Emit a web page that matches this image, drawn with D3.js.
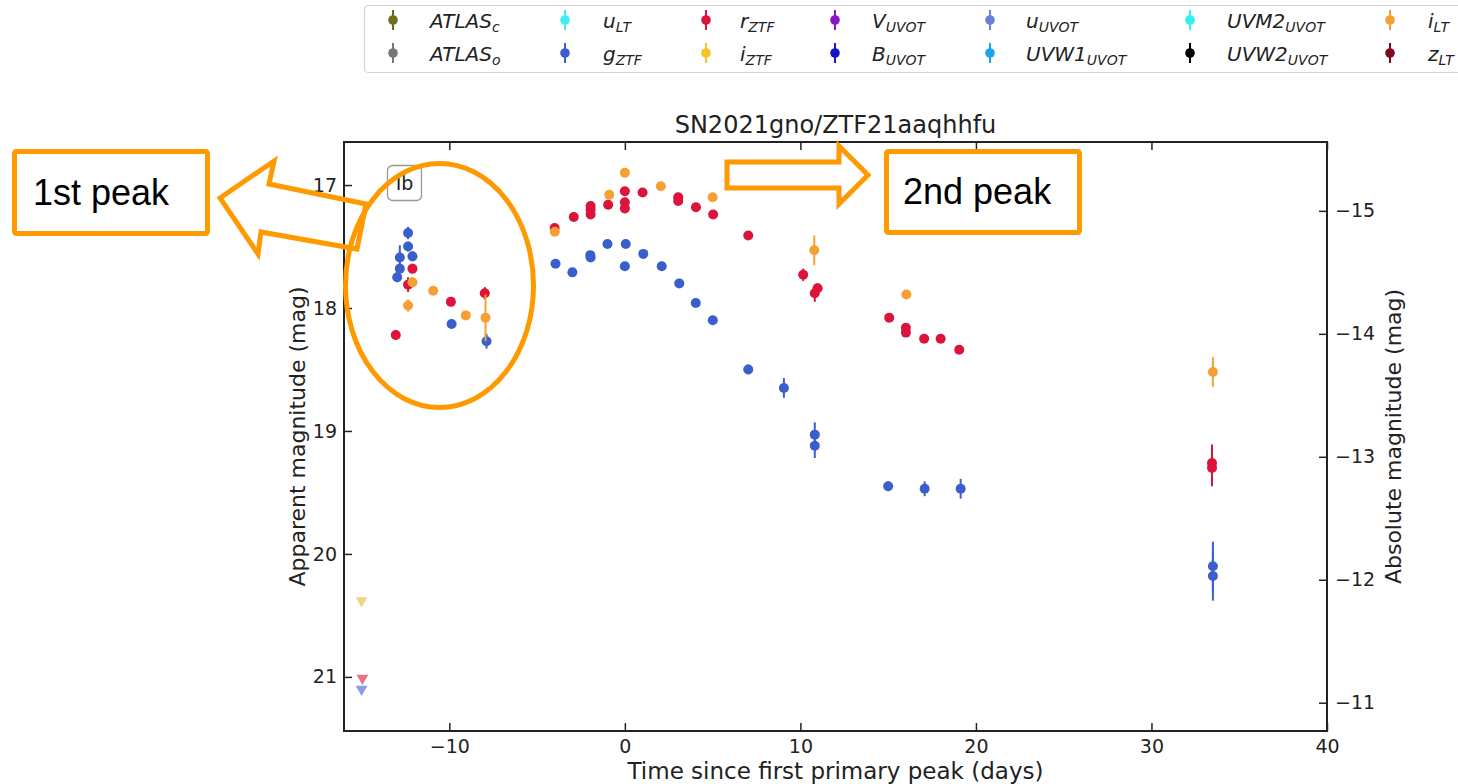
<!DOCTYPE html>
<html>
<head>
<meta charset="utf-8">
<script src="https://cdn.jsdelivr.net/npm/d3@7"></script>
<style>
  body { margin: 0; background: #fff; }
  svg { display: block; font-family: 'DejaVu Sans', sans-serif; }
</style>
</head>
<body>
<svg id="chart" width="1458" height="784"></svg>
<script>
// photometry: [days since first primary peak, apparent mag, error]
var gZTF = [
  [-12.97, 17.75, 0.04], [-12.82, 17.68, 0.05], [-12.82, 17.59, 0.10],
  [-12.35, 17.39, 0.05], [-12.35, 17.50, 0.04], [-12.10, 17.58, 0.04],
  [-9.87, 18.13, 0.03], [-7.88, 18.27, 0.06],
  [-3.95, 17.64, 0.03], [-2.99, 17.71, 0.03], [-1.97, 17.57, 0.03],
  [-1.95, 17.59, 0.03], [-0.99, 17.48, 0.03], [0.05, 17.48, 0.03],
  [0.0, 17.66, 0.03], [1.05, 17.56, 0.03], [2.10, 17.66, 0.03],
  [3.10, 17.80, 0.03], [4.04, 17.96, 0.03], [5.01, 18.10, 0.03],
  [7.03, 18.50, 0.04], [9.06, 18.65, 0.08], [10.82, 19.03, 0.10],
  [10.82, 19.12, 0.10], [15.0, 19.45, 0.04], [17.08, 19.47, 0.06],
  [19.13, 19.47, 0.08], [33.5, 20.10, 0.20], [33.5, 20.18, 0.20]
];
var rZTF = [
  [-13.05, 18.22, 0.04], [-12.35, 17.81, 0.06], [-12.10, 17.68, 0.04],
  [-9.91, 17.95, 0.03], [-7.98, 17.88, 0.05],
  [-4.0, 17.35, 0.03], [-2.91, 17.26, 0.03], [-1.95, 17.17, 0.03],
  [-1.95, 17.20, 0.03], [-1.95, 17.24, 0.03], [-0.95, 17.16, 0.03],
  [0.0, 17.05, 0.03], [0.0, 17.14, 0.03], [0.0, 17.19, 0.03],
  [1.01, 17.06, 0.03], [3.04, 17.10, 0.03], [3.04, 17.13, 0.03],
  [4.05, 17.18, 0.03], [5.03, 17.24, 0.03], [7.03, 17.41, 0.03],
  [10.16, 17.73, 0.05], [10.98, 17.84, 0.04], [10.82, 17.88, 0.07],
  [15.06, 18.08, 0.03], [16.01, 18.16, 0.03], [16.01, 18.20, 0.03],
  [17.05, 18.25, 0.03], [17.99, 18.25, 0.03], [19.05, 18.34, 0.03],
  [33.45, 19.26, 0.15], [33.45, 19.30, 0.15]
];
var iLT = [
  [-12.10, 17.79, 0.04], [-12.35, 17.98, 0.05], [-10.92, 17.86, 0.03],
  [-9.06, 18.06, 0.03], [-7.94, 18.08, 0.19],
  [-3.99, 17.38, 0.03], [-0.89, 17.08, 0.03], [0.0, 16.90, 0.03],
  [2.05, 17.01, 0.03], [5.0, 17.10, 0.03], [10.79, 17.53, 0.12],
  [16.04, 17.89, 0.03], [33.5, 18.52, 0.12]
];
// upper limits: [days, mag]
var gZTFLimits = [[-15.0, 21.10]];
var rZTFLimits = [[-14.95, 21.01]];
var iZTFLimits = [[-15.0, 20.38]];

var xTicks = [-10, 0, 10, 20, 30, 40];
var yTicks = [17, 18, 19, 20, 21];
var absTicks = [-15, -14, -13, -12, -11];
var distMod = 32.21;

var legendNames = ['ATLAS', 'ATLAS', 'u', 'g', 'r', 'i', 'V', 'B', 'u', 'UVW1', 'UVM2', 'UVW2', 'i', 'z'];
var legendSubs = ['c', 'o', 'LT', 'ZTF', 'ZTF', 'ZTF', 'UVOT', 'UVOT', 'UVOT', 'UVOT', 'UVOT', 'UVOT', 'LT', 'LT'];
var legendColors = ['#6e6e1e', '#777777', '#3ff0f0', '#3a5fcd', '#dc143c', '#f5c428', '#8a14c8',
  '#1414cc', '#6a80dc', '#1aa6ee', '#30f0f0', '#000000', '#f5a033', '#800a1c'];

var bandColor = { g: '#3a5fcd', r: '#dc143c', i: '#f5a033', iz: '#e8b830' };

var svg = d3.select('#chart');
var plotLeft = 344, plotRight = 1327, plotTop = 142, plotBottom = 731;

var x = d3.scaleLinear().domain([-16, 40]).range([plotLeft, plotRight]);
var y = d3.scaleLinear().domain([16.65, 21.44]).range([plotTop, plotBottom]);
var yAbs = d3.scaleLinear().domain([16.65 - distMod, 21.44 - distMod]).range([plotTop, plotBottom]);
var intFmt = d3.format('d');

// legend
var legend = svg.append('g').attr('class', 'legend');
legend.append('rect').attr('x', 364.5).attr('y', 5.5).attr('width', 1110).attr('height', 67)
  .attr('rx', 4).attr('fill', '#fff').attr('stroke', '#d4d4d4').attr('stroke-width', 1.2);
var colMarker = [393, 565, 706, 835, 990, 1190, 1390];
var colText = [430, 603, 740, 872, 1026, 1227, 1428];
var rowY = [20, 53];
legendNames.forEach(function(name, i) {
  var col = Math.floor(i / 2), row = i % 2;
  var g = legend.append('g');
  g.append('line').attr('x1', colMarker[col]).attr('x2', colMarker[col])
    .attr('y1', rowY[row] - 10).attr('y2', rowY[row] + 10)
    .attr('stroke', legendColors[i]).attr('stroke-width', 2);
  g.append('circle').attr('cx', colMarker[col]).attr('cy', rowY[row]).attr('r', 4.8)
    .attr('fill', legendColors[i]);
  var t = g.append('text').attr('x', colText[col]).attr('y', rowY[row] + 8)
    .attr('font-size', 20).attr('font-style', 'italic').attr('fill', '#222');
  t.append('tspan').text(name);
  t.append('tspan').attr('font-size', 14).attr('dy', 4).text(legendSubs[i]);
});

// axes
function styleAxis(g) {
  g.select('.domain').remove();
  g.selectAll('.tick line').attr('stroke', '#222').attr('stroke-width', 1.5);
  g.selectAll('.tick text').attr('font-size', 19).attr('fill', '#222')
    .attr('font-family', 'DejaVu Sans, sans-serif');
}
svg.append('g').attr('transform', 'translate(0,' + plotBottom + ')')
  .call(d3.axisBottom(x).tickValues(xTicks).tickFormat(intFmt)
    .tickSizeInner(-8).tickSizeOuter(0).tickPadding(9))
  .call(styleAxis);
svg.append('g').attr('transform', 'translate(0,' + plotTop + ')')
  .call(d3.axisTop(x).tickValues(xTicks).tickSizeInner(-8).tickSizeOuter(0).tickFormat(''))
  .call(styleAxis);
svg.append('g').attr('transform', 'translate(' + plotLeft + ',0)')
  .call(d3.axisLeft(y).tickValues(yTicks).tickFormat(intFmt)
    .tickSizeInner(-8).tickSizeOuter(0).tickPadding(7))
  .call(styleAxis);
svg.append('g').attr('transform', 'translate(' + plotRight + ',0)')
  .call(d3.axisRight(yAbs).tickValues(absTicks).tickFormat(intFmt)
    .tickSizeInner(-8).tickSizeOuter(0).tickPadding(8))
  .call(styleAxis);

svg.append('rect').attr('x', plotLeft).attr('y', plotTop)
  .attr('width', plotRight - plotLeft).attr('height', plotBottom - plotTop)
  .attr('fill', 'none').attr('stroke', '#222').attr('stroke-width', 2);

// labels
var midX = (plotLeft + plotRight) / 2, midY = (plotTop + plotBottom) / 2;
svg.append('text').attr('x', midX).attr('y', 133).attr('text-anchor', 'middle')
  .attr('font-size', 24).attr('fill', '#222').text('SN2021gno/ZTF21aaqhhfu');
svg.append('text').attr('x', midX).attr('y', 779).attr('text-anchor', 'middle')
  .attr('font-size', 23).attr('fill', '#222').text('Time since first primary peak (days)');
svg.append('text').attr('transform', 'translate(297,' + midY + ') rotate(-90)')
  .attr('text-anchor', 'middle').attr('dy', '0.35em')
  .attr('font-size', 22).attr('fill', '#222').text('Apparent magnitude (mag)');
svg.append('text').attr('transform', 'translate(1393,' + midY + ') rotate(-90)')
  .attr('text-anchor', 'middle').attr('dy', '0.35em')
  .attr('font-size', 22).attr('fill', '#222').text('Absolute magnitude (mag)');

// Ib tag
svg.append('rect').attr('x', 387.5).attr('y', 165.5).attr('width', 34).attr('height', 35)
  .attr('rx', 5).attr('fill', '#fff').attr('stroke', '#999').attr('stroke-width', 1.3);
svg.append('text').attr('x', 404.5).attr('y', 190).attr('text-anchor', 'middle')
  .attr('font-size', 19).attr('fill', '#222').text('Ib');

// data
var plot = svg.append('g').attr('class', 'data');
function drawBand(data, color) {
  var g = plot.append('g');
  g.selectAll('line').data(data).enter().append('line')
    .attr('x1', function(d) { return x(d[0]); }).attr('x2', function(d) { return x(d[0]); })
    .attr('y1', function(d) { return y(d[1] - d[2]); }).attr('y2', function(d) { return y(d[1] + d[2]); })
    .attr('stroke', color).attr('stroke-width', 2);
  g.selectAll('circle').data(data).enter().append('circle')
    .attr('cx', function(d) { return x(d[0]); }).attr('cy', function(d) { return y(d[1]); })
    .attr('r', 5).attr('fill', color);
}
function drawLimits(data, color) {
  plot.append('g').selectAll('path').data(data).enter().append('path')
    .attr('d', d3.symbol(d3.symbolTriangle, 60))
    .attr('transform', function(d) { return 'translate(' + x(d[0]) + ',' + y(d[1]) + ') rotate(180)'; })
    .attr('fill', color).attr('opacity', 0.6);
}
drawLimits(gZTFLimits, bandColor.g);
drawLimits(rZTFLimits, bandColor.r);
drawLimits(iZTFLimits, bandColor.iz);
drawBand(gZTF, bandColor.g);
drawBand(rZTF, bandColor.r);
drawBand(iLT, bandColor.i);

// orange annotations
var orange = '#ff9900';
var notes = svg.append('g').attr('fill', 'none').attr('stroke', orange).attr('stroke-width', 5)
  .attr('stroke-linejoin', 'miter');
notes.append('ellipse').attr('cx', 439.5).attr('cy', 285.5).attr('rx', 94).attr('ry', 122);
notes.append('rect').attr('x', 14.5).attr('y', 151.5).attr('width', 193).attr('height', 82).attr('rx', 2);
notes.append('rect').attr('x', 886.5).attr('y', 151.5).attr('width', 193).attr('height', 81).attr('rx', 2);
notes.append('polygon')
  .attr('points', '727,162 839,162 839,146 868,175 839,204 839,188 727,188');
notes.append('polygon')
  .attr('points', '220,198 274,161 269,184 366,204 357,249 261,232 258,254');

svg.append('text').attr('x', 33).attr('y', 205).attr('font-family', 'Liberation Sans, Arial, sans-serif')
  .attr('font-size', 36).attr('fill', '#000').text('1st peak');
svg.append('text').attr('x', 903).attr('y', 204).attr('font-family', 'Liberation Sans, Arial, sans-serif')
  .attr('font-size', 36).attr('fill', '#000').text('2nd peak');
</script>
</body>
</html>
